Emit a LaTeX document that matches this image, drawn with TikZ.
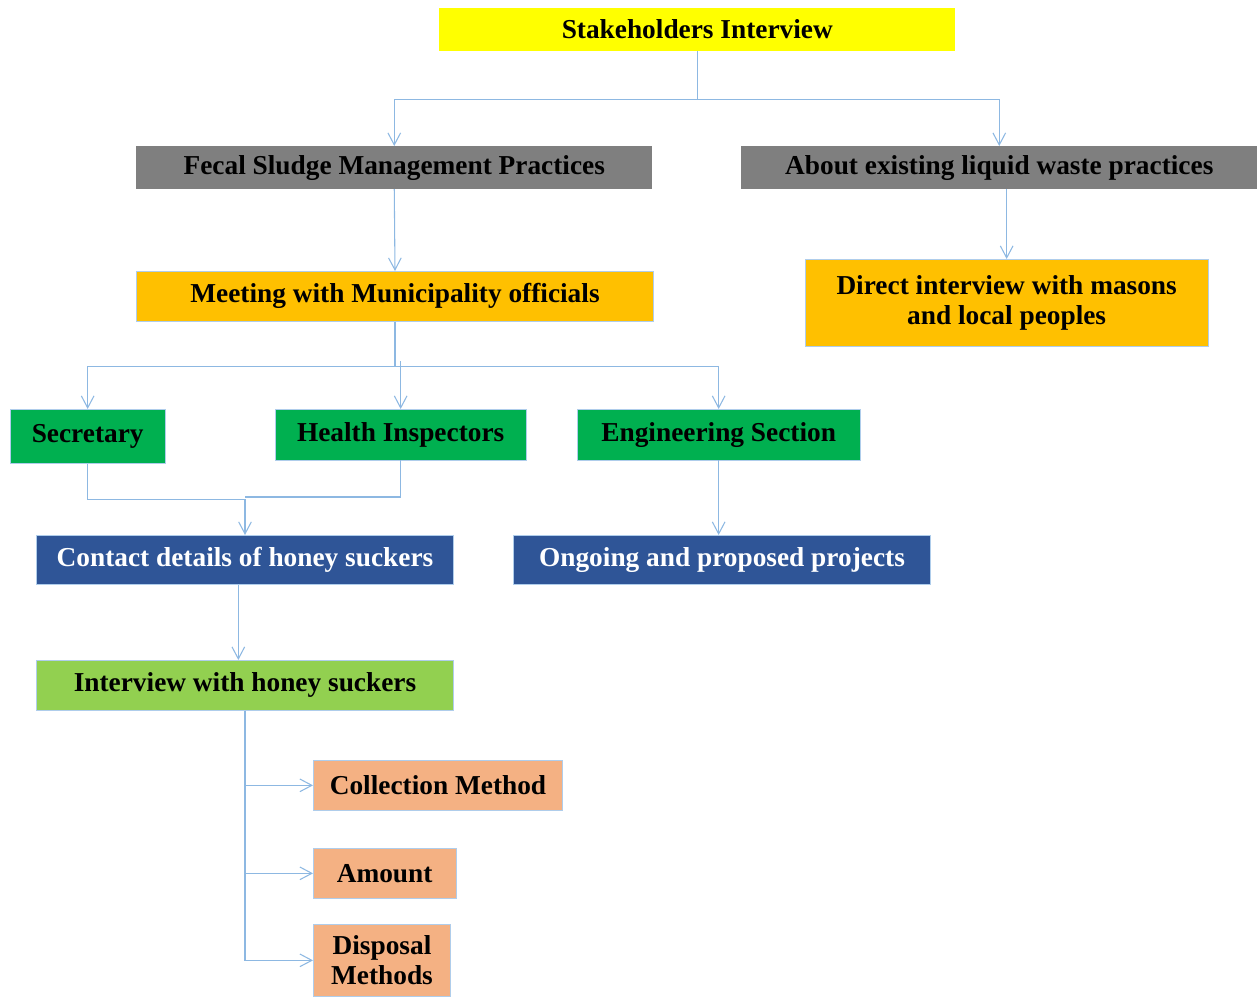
\documentclass[tikz,border=0pt]{standalone}
\usepackage{fontspec}
\setmainfont{Liberation Serif}
\usetikzlibrary{arrows.meta}

\definecolor{stakeyellow}{HTML}{FFFF00}
\definecolor{topicgray}{HTML}{7F7F7F}
\definecolor{meetorange}{HTML}{FFC000}
\definecolor{staffgreen}{HTML}{00B050}
\definecolor{infoblue}{HTML}{2F5597}
\definecolor{suckgreen}{HTML}{92D050}
\definecolor{itempeach}{HTML}{F4B183}
\definecolor{linkblue}{HTML}{8DB8E2}

\tikzset{
  box/.style={inner sep=0pt, align=center, anchor=north west,
    font=\fontsize{20.5}{22.5}\selectfont\bfseries},
  framed/.style={box, draw=linkblue!70, line width=0.5pt},
  link/.style={draw=linkblue, line width=0.8pt,
    -{Straight Barb[length=9pt,width=9.5pt]}},
  plain/.style={draw=linkblue, line width=0.8pt},
}

\begin{document}
\begin{tikzpicture}[x=0.75pt,y=-0.75pt]
\useasboundingbox (0,0) rectangle (1257,997);

% boxes, top to bottom
\node[box, fill=stakeyellow, minimum width=387pt, minimum height=32pt] (stake) at (439,8) {Stakeholders Interview};
\node[box, fill=topicgray, minimum width=387pt, minimum height=32pt] (fecal) at (136,146) {Fecal Sludge Management Practices};
\node[box, fill=topicgray, minimum width=387pt, minimum height=32pt] (about) at (741,146) {About existing liquid waste practices};
\node[framed, fill=meetorange, minimum width=388pt, minimum height=37.5pt] (meet) at (136,271) {Meeting with Municipality officials};
\node[framed, fill=meetorange, minimum width=302pt, minimum height=65pt] (direct) at (805,259) {Direct interview with masons\\and local peoples};

\node[framed, fill=staffgreen, minimum width=116pt, minimum height=40.5pt] (secr) at (10,409) {Secretary};
\node[framed, fill=staffgreen, minimum width=188pt, minimum height=38pt] (health) at (275,409) {Health Inspectors};
\node[framed, fill=staffgreen, minimum width=212pt, minimum height=38pt] (eng) at (577,409) {Engineering Section};

\node[framed, fill=infoblue, text=white, minimum width=313pt, minimum height=37pt] (contact) at (36,535) {Contact details of honey suckers};
\node[framed, fill=infoblue, text=white, minimum width=313pt, minimum height=37pt] (ongoing) at (513,535) {Ongoing and proposed projects};

\node[framed, fill=suckgreen, minimum width=313pt, minimum height=37.5pt] (suckers) at (36,660) {Interview with honey suckers};

\node[framed, fill=itempeach, minimum width=187pt, minimum height=37.5pt] (collect) at (313,760) {Collection Method};
\node[framed, fill=itempeach, minimum width=107pt, minimum height=37.5pt] (amount) at (313,848) {Amount};
\node[framed, fill=itempeach, minimum width=103pt, minimum height=54pt] (dispose) at (313,924) {Disposal\\Methods};

% connectors
\draw[link] (stake.south) -- ++(0,48) coordinate (sj) -| (fecal.north);
\draw[link] (sj) -| (about.north);
\draw[link] (fecal.south) -- (meet.north);
\draw[link] (about.south -| direct.north) -- (direct.north);

\draw[plain] (meet.south) -- ++(0,45) coordinate (mj);
\draw[link] (mj) -| (secr.north);
\draw[link] (mj) -| (eng.north);
\draw[link] ([yshift=36pt]health.north) -- (health.north);

\draw[link] (secr.south) -- ++(0,36) -| (contact.north);
\draw[plain] (health.south) |- ([yshift=28.5pt]contact.north);
\draw[link] (eng.south) -- (eng.south |- ongoing.north);

\draw[link] ([xshift=-5pt]contact.south) -- ([xshift=-5pt]suckers.north);
\draw[link] (suckers.south) |- (collect.west);
\draw[link] (suckers.south) |- (amount.west);
\draw[link] (suckers.south) |- (dispose.west);
\end{tikzpicture}
\end{document}
